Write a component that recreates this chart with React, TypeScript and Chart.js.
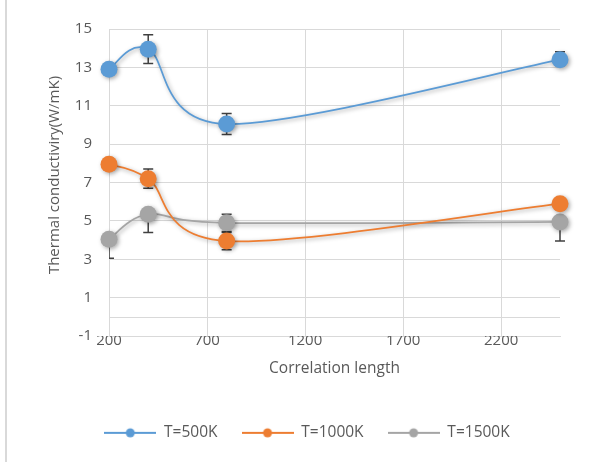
import React, { useEffect, useRef } from "react";
import { Chart, registerables } from "chart.js";

Chart.register(...registerables);

const xValues = [200, 400, 800, 2500];
const seriesNames = ["T=500K", "T=1000K", "T=1500K"];
const t500 = [12.9, 13.95, 10.05, 13.4];
const t1000 = [7.95, 7.2, 3.95, 5.9];
const t1500 = [4.05, 5.35, 4.9, 4.95];
const err500Plus = [0.3, 0.75, 0.55, 0.42];
const err500Minus = [0.3, 0.75, 0.55, 0.3];
const err1000Plus = [0.3, 0.5, 0.45, 0.3];
const err1000Minus = [0.3, 0.5, 0.45, 0.3];
const err1500Plus = [0, 0, 0.45, 0];
const err1500Minus = [1.0, 0.95, 0.45, 1.0];
const xTicks = [200, 700, 1200, 1700, 2200];
const yTicks = [-1, 1, 3, 5, 7, 9, 11, 13, 15];
const xTitle = "Correlation length";
const yTitle = "Thermal conductiviry(W/mK)";
const colors = ["#5B9BD5", "#ED7D31", "#A5A5A5"];

const seriesValues = [t500, t1000, t1500];
const errPlus = [err500Plus, err1000Plus, err1500Plus];
const errMinus = [err500Minus, err1000Minus, err1500Minus];

const FONT = "'Open Sans', 'Noto Sans', sans-serif";
const TEXT = "#595959";
const GRID = "#D9D9D9";

function makeLegendIcon(color: string) {
  const c = document.createElement("canvas");
  c.width = 52;
  c.height = 12;
  const ctx = c.getContext("2d")!;
  ctx.strokeStyle = color;
  ctx.lineWidth = 2;
  ctx.beginPath();
  ctx.moveTo(0, 6);
  ctx.lineTo(52, 6);
  ctx.stroke();
  ctx.fillStyle = color;
  ctx.beginPath();
  ctx.arc(26, 6, 4.5, 0, Math.PI * 2);
  ctx.fill();
  return c;
}

// Excel-like smoothing: Catmull-Rom with 1/6 tangents
const smoothPlugin = {
  id: "excelSmooth",
  beforeDatasetDraw(chart: any, args: any) {
    const meta = args.meta;
    const line = meta.dataset;
    const pts = meta.data;
    const n = pts.length;
    for (let i = 0; i < n; i++) {
      const p = pts[i];
      const prev = pts[Math.max(0, i - 1)];
      const next = pts[Math.min(n - 1, i + 1)];
      const dx = (next.x - prev.x) / 6;
      const dy = (next.y - prev.y) / 6;
      p.cp1x = p.x - dx;
      p.cp1y = p.y - dy;
      p.cp2x = p.x + dx;
      p.cp2y = p.y + dy;
    }
    if (line) line._pointsUpdated = true;
  },
};

const shadowPlugin = {
  id: "shadowPlugin",
  beforeDatasetDraw(chart: any) {
    const ctx = chart.ctx;
    ctx.save();
    ctx.shadowColor = "rgba(0,0,0,0.35)";
    ctx.shadowBlur = 4;
    ctx.shadowOffsetX = 1.5;
    ctx.shadowOffsetY = 1.5;
  },
  afterDatasetDraw(chart: any) {
    chart.ctx.restore();
  },
};

const underlayPlugin = {
  id: "underlayPlugin",
  beforeDatasetsDraw(chart: any) {
    const { ctx, chartArea, scales } = chart;
    const x = scales.x;
    const y = scales.y;
    ctx.save();
    ctx.strokeStyle = GRID;
    ctx.lineWidth = 1;
    const y0 = Math.round(y.getPixelForValue(0)) + 0.5;
    ctx.beginPath();
    ctx.moveTo(chartArea.left, y0);
    ctx.lineTo(chartArea.right, y0);
    ctx.stroke();
    ctx.restore();

    ctx.save();
    ctx.beginPath();
    ctx.rect(chartArea.left, chartArea.top - 20, chartArea.right - chartArea.left + 20, chartArea.bottom - chartArea.top + 40);
    ctx.clip();
    ctx.strokeStyle = "#404040";
    ctx.lineWidth = 1.5;
    seriesValues.forEach((vals, si) => {
      vals.forEach((v, i) => {
        const px = x.getPixelForValue(xValues[i]);
        const top = y.getPixelForValue(v + errPlus[si][i]);
        const bot = y.getPixelForValue(v - errMinus[si][i]);
        ctx.beginPath();
        ctx.moveTo(px, top);
        ctx.lineTo(px, bot);
        if (errPlus[si][i] > 0) {
          ctx.moveTo(px - 5, top);
          ctx.lineTo(px + 5, top);
        }
        if (errMinus[si][i] > 0) {
          ctx.moveTo(px - 5, bot);
          ctx.lineTo(px + 5, bot);
        }
        ctx.stroke();
      });
    });
    ctx.restore();
  },
  afterDraw(chart: any) {
    const ctx = chart.ctx;
    ctx.save();
    ctx.translate(55, 175);
    ctx.rotate(-Math.PI / 2);
    ctx.textAlign = "center";
    ctx.textBaseline = "middle";
    ctx.fillStyle = TEXT;
    ctx.font = `15px ${FONT}`;
    ctx.fillText(yTitle, 0, 0);
    ctx.restore();
  },
};

export default function App() {
  const ref = useRef<HTMLCanvasElement | null>(null);

  useEffect(() => {
    if (!ref.current) return;
    const icons = colors.map((c) => makeLegendIcon(c));
    const chart = new Chart(ref.current, {
      type: "line",
      data: {
        datasets: seriesNames.map((name, si) => ({
          label: name,
          data: xValues.map((xv, i) => ({ x: xv, y: seriesValues[si][i] })),
          borderColor: colors[si],
          backgroundColor: colors[si],
          pointBackgroundColor: colors[si],
          pointBorderColor: colors[si],
          pointRadius: 8.5,
          pointBorderWidth: 0,
          borderWidth: 1.75,
          tension: 0.4,
          fill: false,
          clip: false as any,
        })),
      },
      options: {
        responsive: false,
        animation: false,
        devicePixelRatio: 1,
        events: [],
        layout: { padding: { left: 10, top: 29, right: 0, bottom: 11.4 } },
        scales: {
          x: {
            type: "linear",
            min: 200,
            max: 2500,
            afterBuildTicks: (s: any) => {
              s.ticks = xTicks.map((v) => ({ value: v }));
            },
            afterFit: (s: any) => {
              s.height = 65;
            },
            grid: { color: GRID, lineWidth: 1, drawTicks: false },
            border: { display: true, color: GRID },
            ticks: {
              padding: -4,
              color: TEXT,
              font: { family: FONT, size: 15 },
              maxRotation: 0,
              autoSkip: false,
              callback: (v: any) => String(v),
            },
            title: {
              display: true,
              text: xTitle,
              color: TEXT,
              font: { family: FONT, size: 15.5 },
              padding: { top: 0, bottom: 23.7 },
            },
          },
          y: {
            type: "linear",
            min: -1,
            max: 15,
            afterBuildTicks: (s: any) => {
              s.ticks = yTicks.map((v) => ({ value: v }));
            },
            afterFit: (s: any) => {
              s.width = 99;
            },
            grid: { color: GRID, lineWidth: 1, drawTicks: false },
            border: { display: true, color: GRID },
            ticks: {
              padding: 17,
              color: TEXT,
              font: { family: FONT, size: 15 },
              callback: (v: any) => String(v),
            },
            title: { display: false },
          },
          y2: {
            type: "linear",
            position: "right",
            display: true,
            grid: { display: false, drawTicks: false },
            border: { display: false },
            ticks: { display: false },
            afterFit: (s: any) => {
              s.width = 44;
            },
          },
        },
        plugins: {
          tooltip: { enabled: false },
          legend: {
            display: true,
            position: "bottom",
            labels: {
              usePointStyle: true,
              pointStyleWidth: 52,
              padding: 24,
              color: TEXT,
              font: { family: FONT, size: 15.5 },
              generateLabels: (c: any) => {
                const items = (Chart.defaults.plugins.legend.labels as any).generateLabels(c);
                items.forEach((it: any, i: number) => {
                  it.pointStyle = icons[i];
                });
                return items;
              },
            },
          },
        },
      },
      plugins: [underlayPlugin, smoothPlugin, shadowPlugin],
    } as any);
    return () => chart.destroy();
  }, []);

  return (
    <div style={{ position: "fixed", left: 0, top: 0, width: 604, height: 462, background: "#fff" }}>
      <div style={{ position: "absolute", left: 5, top: 0, width: 2, height: 462, background: "#D9D9D9" }} />
      <canvas ref={ref} width={604} height={462} style={{ position: "absolute", left: 0, top: 0 }} />
    </div>
  );
}
